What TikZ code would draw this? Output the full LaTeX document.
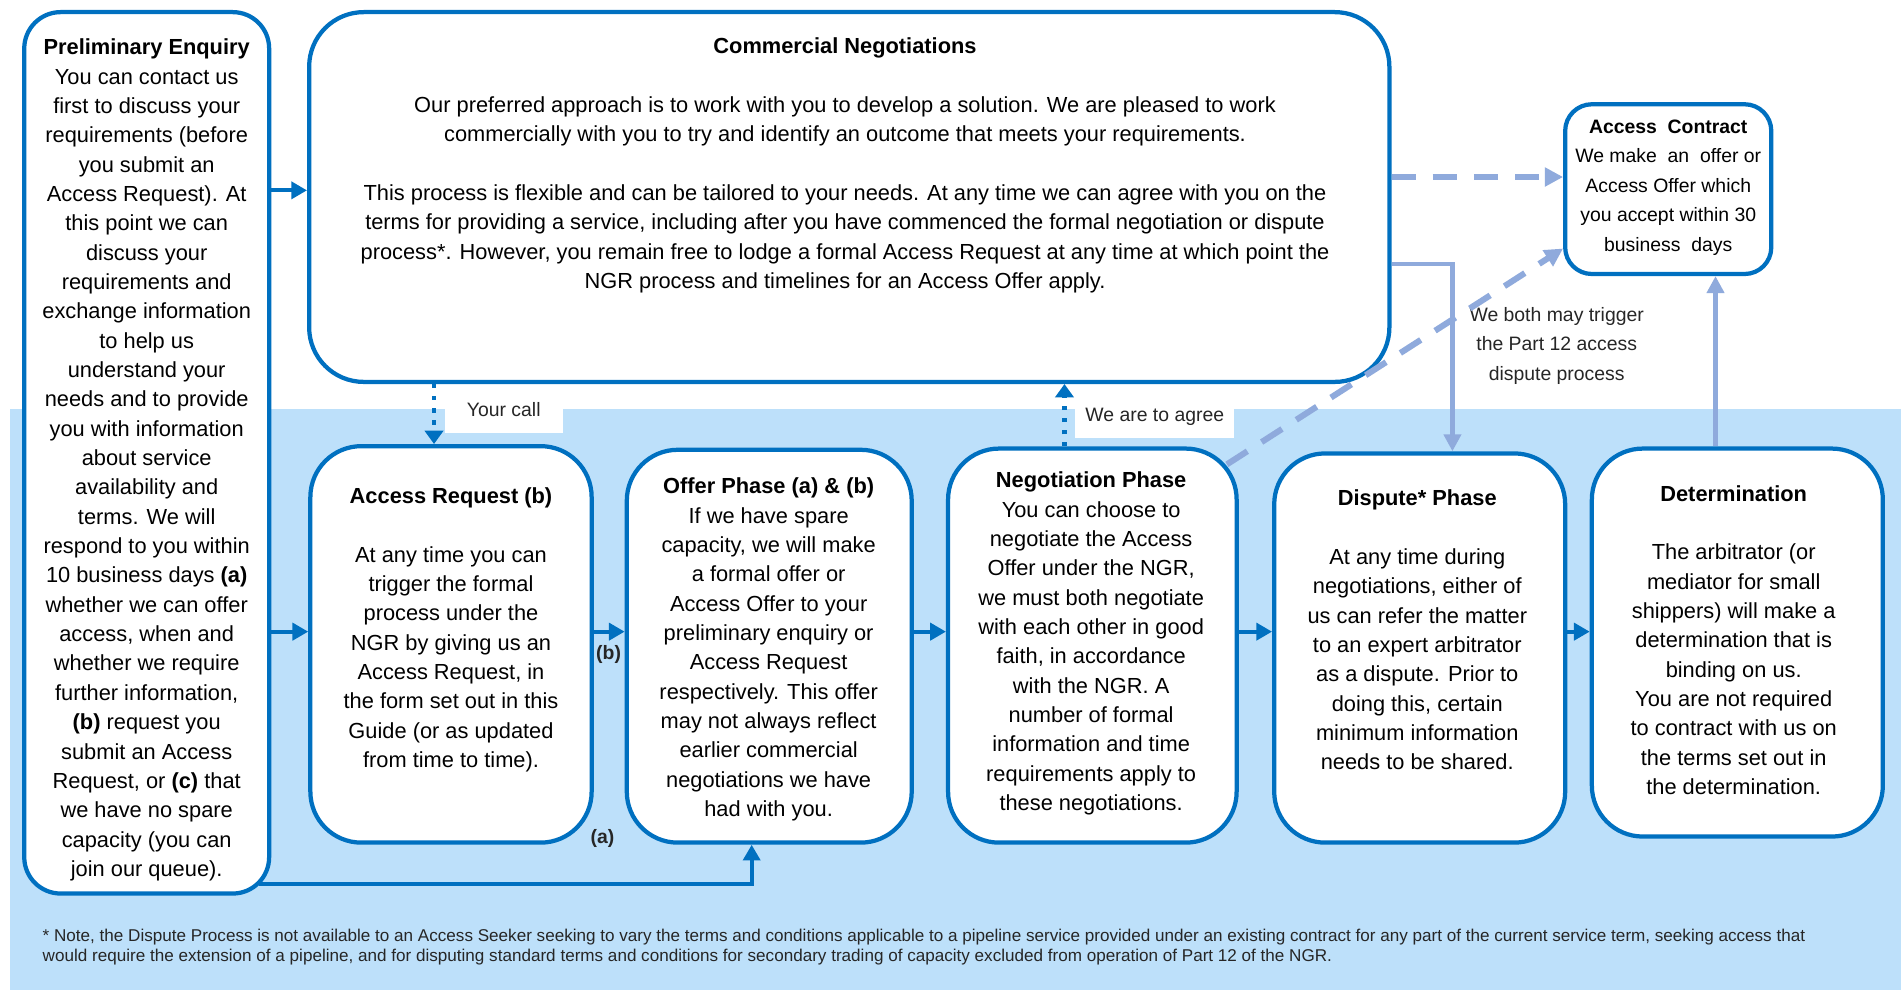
\documentclass[tikz,border=0pt]{standalone}
\usepackage{fontspec}
\setmainfont{Liberation Sans}
\usetikzlibrary{arrows.meta,calc}
\definecolor{dblue}{HTML}{0070C0}
\definecolor{lbg}{HTML}{BDE0FA}
\definecolor{larrow}{HTML}{8FAADC}
\newcommand\bodyfont{\fontsize{18bp}{24.2bp}\selectfont}
\newcommand\smallbody{\fontsize{16bp}{24.2bp}\selectfont}
\newcommand\notefont{\fontsize{14.1bp}{17bp}\selectfont}
\begin{document}
\begin{tikzpicture}[x=1bp,y=-1bp,
  box/.style={draw=dblue, line width=3.5bp, fill=white, rounded corners=#1, inner sep=0pt, shape=rectangle},
  txt/.style={align=center, inner sep=0pt, anchor=north, font=\bodyfont, text=black},
  lab/.style={fill=white, inner sep=0pt, font=\smallbody, text=black!85},
  tag/.style={inner sep=0pt, font=\bfseries\fontsize{16bp}{19bp}\selectfont, text=black!85},
  flow/.style={draw=dblue, line width=3.5bp, -{Triangle[length=13bp,width=14bp]}},
  dotflow/.style={draw=dblue, line width=3.5bp, dash pattern=on 3.5bp off 6.5bp, -{Triangle[length=11bp,width=15bp]}},
  lflow/.style={draw=larrow, line width=3.5bp, -{Triangle[length=14bp,width=14bp]}},
  ldash/.style={draw=larrow, line width=5bp, dash pattern=on 20bp off 14bp, -{Triangle[length=15bp,width=15bp]}}
]
\useasboundingbox (0,0) rectangle (1568,816.6);
\fill[white] (0,0) rectangle (1568,816.6);
\fill[lbg] (8,337) rectangle (1568,816.6);

% helper coordinates
\coordinate (r157) at (0,157);
\coordinate (r521) at (0,521);
\coordinate (r146) at (0,146);
\coordinate (r205) at (0,205);
\coordinate (r218) at (0,218);
\coordinate (c358) at (358,0);
\coordinate (c878) at (878,0);
\coordinate (c620) at (620,0);
\coordinate (c1198) at (1198,0);
\coordinate (c1415) at (1415,0);
\coordinate (pa) at (214,729);
\coordinate (negc) at (1012,383);

% boxes
\node[box=30bp, minimum width=202bp, minimum height=727bp] (prelim) at (121,373.5) {};
\node[box=45bp, minimum width=891bp, minimum height=305bp] (comm) at (700.5,162.5) {};
\node[box=22bp, minimum width=170bp, minimum height=140bp] (contract) at (1376,156) {};
\node[box=42bp, minimum width=232bp, minimum height=327bp] (ar) at (372,531.5) {};
\node[box=42bp, minimum width=235bp, minimum height=324bp] (offer) at (634.5,533) {};
\node[box=42bp, minimum width=238bp, minimum height=325bp] (neg) at (901,532.5) {};
\node[box=42bp, minimum width=240bp, minimum height=321bp] (disp) at (1171,534.5) {};
\node[box=42bp, minimum width=240bp, minimum height=320bp] (det) at (1433,530) {};

% texts
\node[txt] (prelimtxt) at (121,28.1) {\strut\textbf{Preliminary Enquiry}\\
You can contact us\\ first to discuss your\\ requirements (before\\ you submit an\\
Access Request). At\\ this point we can\\ discuss your\\ requirements and\\
exchange information\\ to help us\\ understand your\\ needs and to provide\\
you with information\\ about service\\ availability and\\ terms. We will\\
respond to you within\\ 10 business days \textbf{(a)}\\ whether we can offer\\
access, when and\\ whether we require\\ further information,\\
\textbf{(b)} request you\\ submit an Access\\ Request, or \textbf{(c)} that\\
we have no spare\\ capacity (you can\\ join our queue).};

\node[txt] (commtxt) at (697,27.1) {\strut\textbf{Commercial Negotiations}\\ \mbox{}\\
Our preferred approach is to work with you to develop a solution. We are pleased to work\\
commercially with you to try and identify an outcome that meets your requirements.\\ \mbox{}\\
This process is flexible and can be tailored to your needs. At any time we can agree with you on the\\
terms for providing a service, including after you have commenced the formal negotiation or dispute\\
process*. However, you remain free to lodge a formal Access Request at any time at which point the\\
NGR process and timelines for an Access Offer apply.};

\node[txt, font=\smallbody] (contracttxt) at (1376,93.1) {\strut\textbf{Access\ \ Contract}\\
We make\ \ an\ \ offer or\\ Access Offer which\\ you accept within 30\\ business\ \ days};

\node[txt] (artxt) at (372,398.1) {\strut\textbf{Access Request (b)}\\ \mbox{}\\
At any time you can\\ trigger the formal\\ process under the\\ NGR by giving us an\\
Access Request, in\\ the form set out in this\\ Guide (or as updated\\ from time to time).};

\node[txt] (offertxt) at (634,390.1) {\strut\textbf{Offer Phase (a) \& (b)}\\
If we have spare\\ capacity, we will make\\ a formal offer or\\ Access Offer to your\\
preliminary enquiry or\\ Access Request\\ respectively. This offer\\ may not always reflect\\
earlier commercial\\ negotiations we have\\ had with you.};

\node[txt] (negtxt) at (900,385.1) {\strut\textbf{Negotiation Phase}\\
You can choose to\\ negotiate the Access\\ Offer under the NGR,\\ we must both negotiate\\
with each other in good\\ faith, in accordance\\ with the NGR. A\\ number of formal\\
information and time\\ requirements apply to\\ these negotiations.};

\node[txt] (disptxt) at (1169,400.1) {\strut\textbf{Dispute* Phase}\\ \mbox{}\\
At any time during\\ negotiations, either of\\ us can refer the matter\\ to an expert arbitrator\\
as a dispute. Prior to\\ doing this, certain\\ minimum information\\ needs to be shared.};

\node[txt] (dettxt) at (1430,396.1) {\strut\textbf{Determination}\\ \mbox{}\\
The arbitrator (or\\ mediator for small\\ shippers) will make a\\ determination that is\\
binding on us.\\ You are not required\\ to contract with us on\\ the terms set out in\\ the determination.};

\node[txt, font=\smallbody, text=black!85] (trig) at (1284,248) {\strut We both may trigger\\ the Part 12 access\\ dispute process};

\node[inner sep=0pt, anchor=north west, align=left, font=\notefont, text=black!85] (note) at (35,764.1) {\strut * Note, the Dispute Process is not available to an Access Seeker seeking to vary the terms and conditions applicable to a pipeline service provided under an existing contract for any part of the current service term, seeking access that\\
would require the extension of a pipeline, and for disputing standard terms and conditions for secondary trading of capacity excluded from operation of Part 12 of the NGR.};

% labels
\node[lab, minimum width=97bp, minimum height=38bp] (yourcall) at (415.5,338) {Your call};
\node[lab, minimum width=131bp, minimum height=34bp] (agree) at (952.5,344) {We are to agree};
\node[tag] (tagb) at (502,540) {(b)};
\node[tag] (taga) at (497,692) {(a)};

% connectors
\draw[flow] (prelim.east |- r157) -- (comm.west |- r157);
\draw[flow] (prelim.east |- r521) -- (ar.west |- r521);
\draw[flow] (ar.east |- r521) -- (offer.west |- r521);
\draw[flow] (offer.east |- r521) -- (neg.west |- r521);
\draw[flow] (neg.east |- r521) -- (disp.west |- r521);
\draw[flow] (disp.east |- r521) -- (det.west |- r521);
\draw[flow] (pa) -- (pa -| c620) -- (offer.south -| c620);
\draw[dotflow] (comm.south -| c358) -- (ar.north -| c358);
\draw[dotflow] (neg.north -| c878) -- (comm.south -| c878);
\draw[ldash] (comm.east |- r146) -- (contract.west |- r146);
\draw[ldash] (negc) -- (contract.west |- r205);
\draw[lflow] (comm.east |- r218) -- (c1198 |- r218) -- (disp.north -| c1198);
\draw[lflow] (det.north -| c1415) -- (contract.south -| c1415);
\end{tikzpicture}
\end{document}
